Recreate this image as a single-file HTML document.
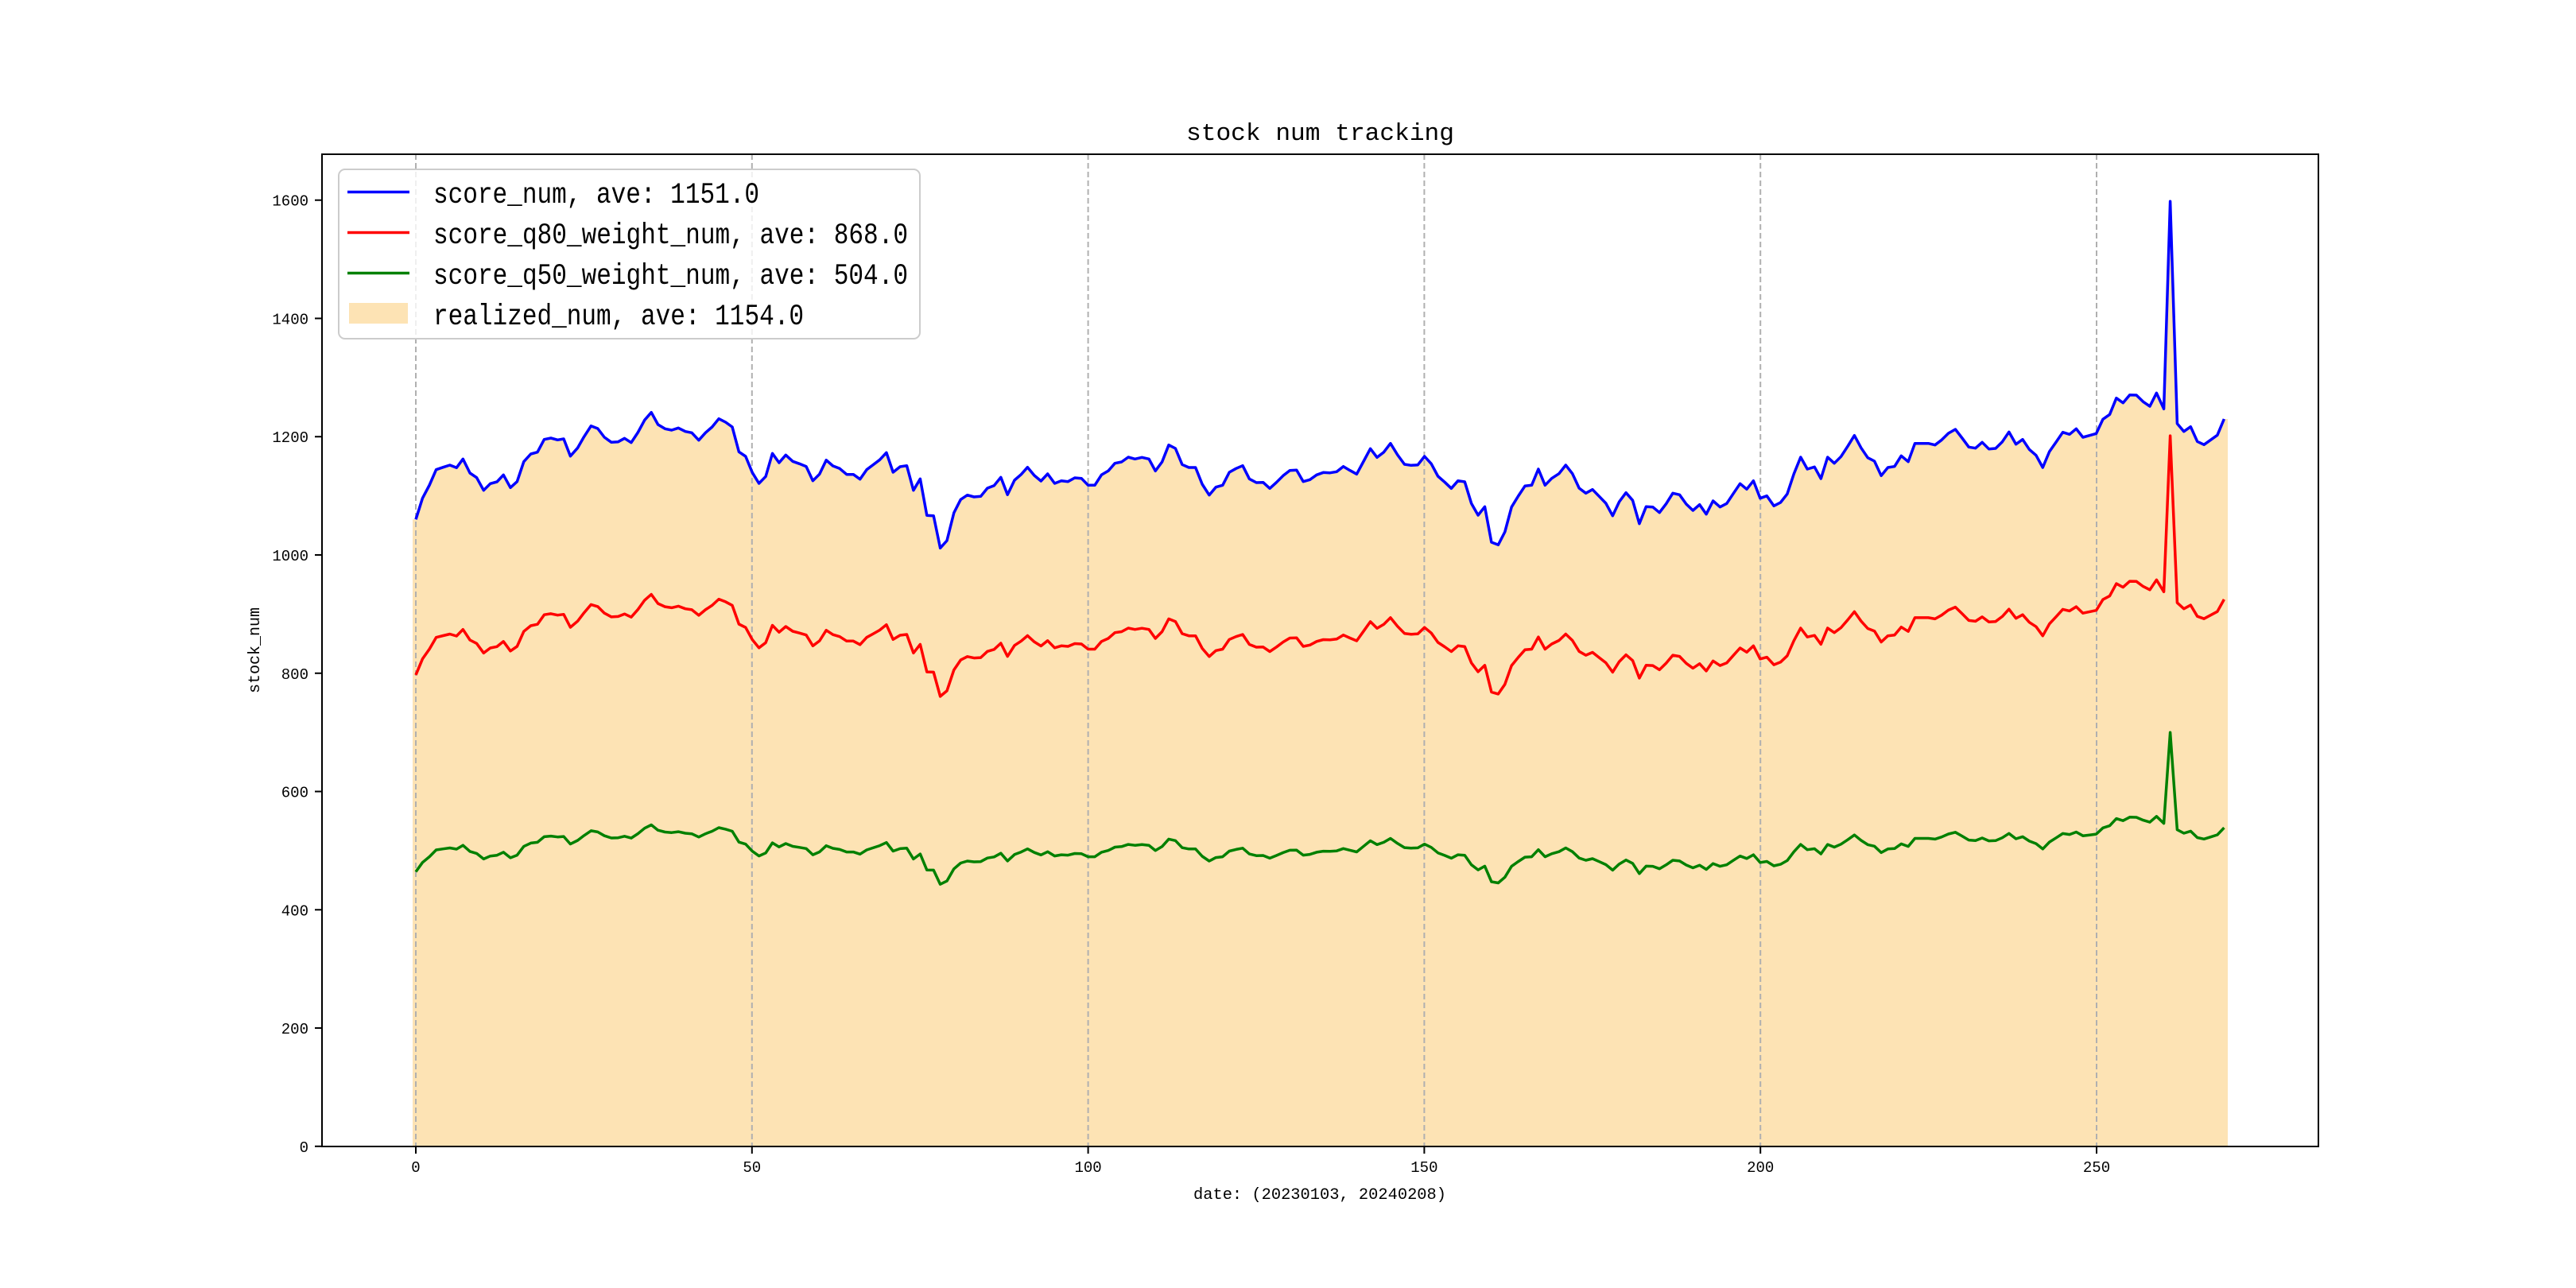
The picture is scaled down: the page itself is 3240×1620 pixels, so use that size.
<!DOCTYPE html>
<html><head><meta charset="utf-8"><style>
html,body{margin:0;padding:0;background:#fff;width:3240px;height:1620px;overflow:hidden}
svg text{font-family:"Liberation Mono","WenQuanYi Zen Hei",monospace;fill:#000}
</style></head><body>
<svg id="s" width="3240" height="1620" xmlns="http://www.w3.org/2000/svg">
<g id="plot"></g>
<rect x="405" y="194" width="2511" height="1248" fill="none" stroke="#000" stroke-width="2"/>
<g id="ticks"></g>
<text x="1492" y="176" font-size="31" textLength="337" lengthAdjust="spacingAndGlyphs">stock num tracking</text>
<text x="1501" y="1508" font-size="20" textLength="318" lengthAdjust="spacingAndGlyphs">date: (20230103, 20240208)</text>
<text x="0" y="0" font-size="20" text-anchor="middle" transform="translate(326,818) rotate(-90)">stock_num</text>
<rect x="426" y="213" width="731" height="213" rx="8" fill="#fff" fill-opacity="0.8" stroke="#ccc" stroke-width="2"/>
<line x1="437" y1="241.5" x2="515" y2="241.5" stroke="#0000ff" stroke-width="3.5"/>
<line x1="437" y1="292.5" x2="515" y2="292.5" stroke="#ff0000" stroke-width="3.5"/>
<line x1="437" y1="343.5" x2="515" y2="343.5" stroke="#008000" stroke-width="3.5"/>
<rect x="439" y="381" width="74" height="26" fill="#fde3b4"/>
<text x="545" y="255" font-size="37" textLength="410" lengthAdjust="spacingAndGlyphs">score_num, ave: 1151.0</text>
<text x="545" y="306" font-size="37" textLength="597" lengthAdjust="spacingAndGlyphs">score_q80_weight_num, ave: 868.0</text>
<text x="545" y="357" font-size="37" textLength="597" lengthAdjust="spacingAndGlyphs">score_q50_weight_num, ave: 504.0</text>
<text x="545" y="408" font-size="37" textLength="466" lengthAdjust="spacingAndGlyphs">realized_num, ave: 1154.0</text>
</svg>
<script>
var z1=[[60,580],[82,500],[105,450],[127,392],[150,383],[172,375],[194,385],[215,352],[238,405],[260,422],[283,470],[305,445],[327,438],[348,412],[371,460],[393,437],[415,362],[438,333],[460,326],[482,278],[504,273],[526,280],[546,276],[568,341],[592,310],[613,268],[636,227],[658,237],[680,270],[703,289],[725,287],[746,274],[768,290],[790,252],[812,205],[834,176],[856,222],[879,238],[901,243],[923,235],[946,248],[967,253],[990,281],[1012,253],[1034,231],[1056,200],[1078,213],[1100,231],[1122,325],[1144,342],[1166,403],[1188,444],[1210,418],[1232,331],[1254,366],[1276,337],[1299,361],[1321,370],[1343,380],[1365,434],[1387,409],[1409,356],[1431,378],[1453,388],[1476,410],[1498,410],[1520,428],[1542,392]];
var z2=[[20,375],[43,355],[65,328],[87,402],[110,381],[132,377],[154,470],[176,427],[198,565],[220,566],[242,688],[264,660],[287,555],[309,505],[331,488],[353,495],[375,493],[397,462],[419,452],[441,421],[463,487],[486,432],[508,410],[529,383],[551,414],[573,435],[595,408],[618,444],[640,434],[662,437],[684,423],[706,425],[728,451],[750,451],[772,412],[794,397],[816,368],[838,363],[860,345],[882,352],[905,346],[928,352],[949,397],[971,363],[993,299],[1015,312],[1037,373],[1059,384],[1081,384],[1103,447],[1126,488],[1148,458],[1170,451],[1192,402],[1214,388],[1236,377],[1258,427],[1281,441],[1303,440],[1325,463],[1347,440],[1369,415],[1391,395],[1413,394],[1435,437],[1457,430],[1479,412],[1501,403],[1523,404],[1545,400]];
var z3=[[25,380],[47,395],[69,409],[92,360],[114,313],[136,346],[158,326],[180,293],[203,336],[226,372],[248,376],[270,374],[292,342],[314,370],[336,417],[358,439],[380,463],[402,434],[424,438],[446,520],[468,564],[490,532],[512,666],[534,676],[556,627],[578,533],[600,492],[622,454],[644,451],[666,390],[688,451],[710,425],[734,407],[756,375],[778,407],[800,462],[822,481],[844,467],[866,493],[888,519],[910,566],[932,513],[954,479],[976,508],[998,596],[1020,532],[1042,533],[1064,554],[1086,521],[1108,481],[1130,487],[1152,522],[1174,546],[1196,524],[1218,560],[1240,510],[1263,533],[1285,520],[1307,482],[1329,445],[1351,466],[1373,434],[1395,500],[1417,491],[1440,529],[1462,516],[1484,484],[1506,408],[1528,345],[1550,390]];
var z4=[[32,1102],[53,1146],[75,1065],[97,1088],[119,1063],[141,1024],[163,983],[185,1030],[207,1067],[229,1080],[251,1135],[273,1104],[295,1100],[317,1060],[340,1082],[362,1013],[384,1013],[406,1013],[428,1019],[450,1000],[472,975],[495,960],[517,993],[539,1027],[561,1031],[583,1009],[605,1034],[627,1032],[649,1007],[671,970],[694,1016],[716,998],[738,1036],[760,1058],[782,1104],[804,1044],[826,1008],[848,971],[870,979],[892,958],[914,990],[936,983],[958,976],[980,922],[1002,904],[1024,842],[1046,860],[1068,830],[1090,831],[1112,856],[1134,873],[1156,823],[1180,883],[1201,100],[1224,938],[1246,968],[1268,950],[1290,1006],[1312,1018],[1334,1000],[1356,982],[1378,921]];
var S=2.613,pts=[];
function add(a,cx,cy){a.forEach(function(p){pts.push([cx+p[0]/S,cy+p[1]/3]);});}
add(z1,500,460);add(z2,1090,460);add(z3,1680,460);add(z4,2270,220);
var B=1441.8,NS="http://www.w3.org/2000/svg";
function el(t,a,par){var e=document.createElementNS(NS,t);for(var k in a)e.setAttribute(k,a[k]);par.appendChild(e);return e;}
var plot=document.getElementById('plot'),tk=document.getElementById('ticks');
function ps(f){return pts.map(function(p){return p[0].toFixed(1)+','+f(p[1]).toFixed(1);}).join(' ');}
var fill='519,'+B+' 519,'+pts[0][1].toFixed(1)+' '+ps(function(y){return y;})+' 2802,'+pts[pts.length-1][1].toFixed(1)+' 2802,'+B;
el('polygon',{points:fill,fill:'#fde3b4'},plot);
var x0=523,dx=8.456;
for(var i=0;i<=250;i+=50){var x=x0+i*dx;
 el('line',{x1:x,y1:194,x2:x,y2:1442,stroke:'#b0b0b0','stroke-width':2,'stroke-dasharray':'7,4'},plot);
 el('line',{x1:x,y1:1442,x2:x,y2:1451,stroke:'#000','stroke-width':2},tk);
 var t=el('text',{x:x,y:1474,'font-size':19,'text-anchor':'middle'},tk);t.textContent=i;}
for(var v=0;v<=1600;v+=200){var y=B-v*0.7438;
 el('line',{x1:396,y1:y,x2:405,y2:y,stroke:'#000','stroke-width':2},tk);
 var t=el('text',{x:388,y:y+7,'font-size':19,'text-anchor':'end'},tk);t.textContent=v;}
el('polyline',{points:ps(function(y){return y;}),fill:'none',stroke:'#0000ff','stroke-width':3.5,'stroke-linejoin':'round'},plot);
el('polyline',{points:ps(function(y){return B-0.752*(B-y);}),fill:'none',stroke:'#ff0000','stroke-width':3.5,'stroke-linejoin':'round'},plot);
el('polyline',{points:ps(function(y){return B-0.438*(B-y);}),fill:'none',stroke:'#008000','stroke-width':3.5,'stroke-linejoin':'round'},plot);
</script>
</body></html>
